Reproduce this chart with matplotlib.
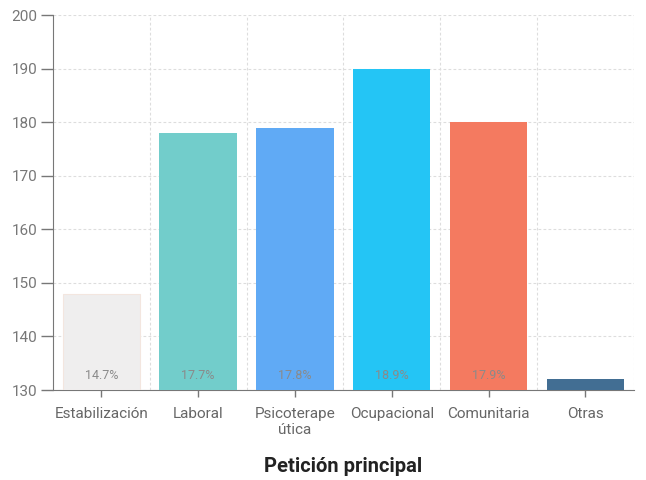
import matplotlib.pyplot as plt

# categories and values
categorias = ['Estabilización', 'Laboral', 'Psicoterape\nútica', 'Ocupacional', 'Comunitaria', 'Otras']
valores = [148, 178, 179, 190, 180, 132]
porcentajes = ['14.7%', '17.7%', '17.8%', '18.9%', '17.9%', '']
colores = ['#efeeee', '#72cdcb', '#60aaf5', '#24c5f5', '#f47a60', '#426e93']

plt.rcParams['font.family'] = ['Roboto', 'DejaVu Sans']

fig = plt.figure(figsize=(6.46, 4.8), dpi=100)
ax = fig.add_axes([0.082, 0.1875, 0.899, 0.781])

x = list(range(len(categorias)))
base = 130
alturas = [v - base for v in valores]
barras = ax.bar(x, alturas, bottom=base, width=0.8, color=colores, zorder=3)
barras[0].set_edgecolor('#f3e6df')
barras[0].set_linewidth(0.8)

# percentage labels near bottom of bars
for i, p in enumerate(porcentajes):
    ax.text(x[i], base + 1.5, p, ha='center', va='bottom', fontsize=9, color='#8a8a8a', zorder=4)

ax.set_ylim(130, 200)
ax.set_xlim(-0.5, len(categorias) - 0.5)
ax.set_yticks(range(130, 201, 10))
ax.set_xticks(x)
ax.set_xticklabels(categorias, fontsize=11, color='#666666', linespacing=1.25)
ax.tick_params(axis='y', labelsize=11, labelcolor='#777777', color='#777777', length=9, width=1, pad=2)
ax.tick_params(axis='x', color='#777777', length=5, width=1, pad=7)

# dashed grid
ax.set_xticks([i + 0.5 for i in x], minor=True)
ax.grid(True, axis='y', linestyle=(0, (2.5, 2)), color='#dddddd', linewidth=0.8, zorder=0)
ax.grid(True, axis='x', which='minor', linestyle=(0, (2.5, 2)), color='#dddddd', linewidth=0.8, zorder=0)
ax.tick_params(axis='x', which='minor', length=0)

for s in ['top', 'right']:
    ax.spines[s].set_visible(False)
ax.spines['left'].set_color('#777777')
ax.spines['bottom'].set_color('#777777')

ax.set_xlabel('Petición principal', fontsize=14.5, fontweight='bold', color='#222222', labelpad=14)

fig.savefig('out.png', dpi=100)
